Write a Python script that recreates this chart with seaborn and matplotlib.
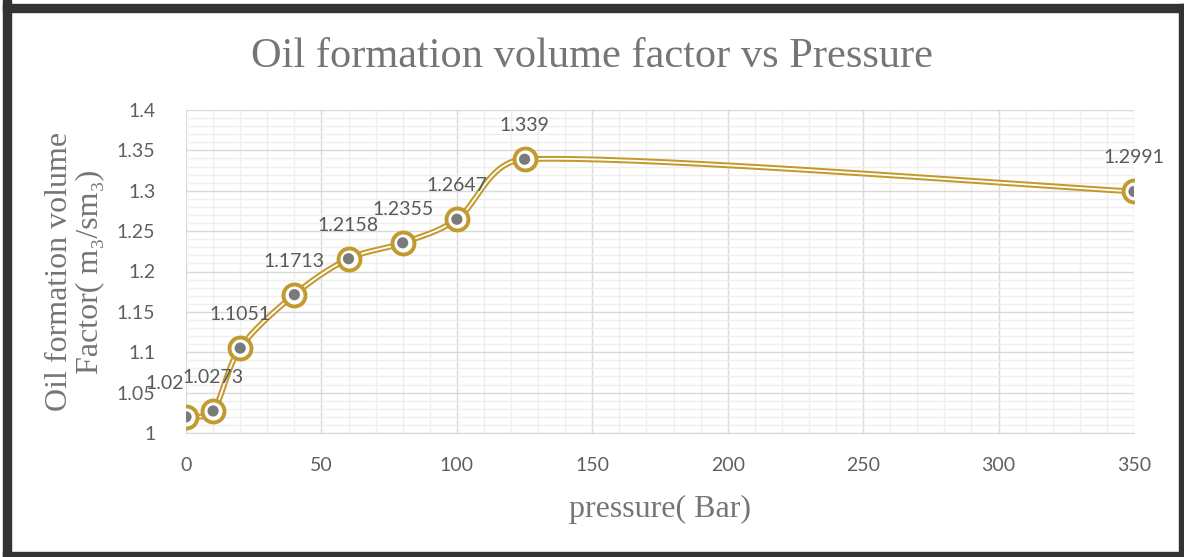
import numpy as np
import matplotlib
matplotlib.use("Agg")
import matplotlib.pyplot as plt
from matplotlib.patches import Rectangle
import seaborn as sns
import pandas as pd


pressure = [0, 10, 20, 40, 60, 80, 100, 125, 350]
bo = [1.02, 1.0273, 1.1051, 1.1713, 1.2158, 1.2355, 1.2647, 1.339, 1.2991]
bo_labels = ["1.02", "1.0273", "1.1051", "1.1713", "1.2158", "1.2355", "1.2647", "1.339", "1.2991"]

GOLD = "#C39A2E"
GREY_TXT = "#757575"
TICK_TXT = "#606060"


def smooth_curve(xs, ys, sx, sy, n=60):
    # excel-ish smoothed line: catmull-rom bezier, tangents clamped by segment length
    pts = np.column_stack([np.asarray(xs, float) * sx, np.asarray(ys, float) * sy])
    out = []
    for i in range(len(pts) - 1):
        p0 = pts[i - 1] if i > 0 else pts[i]
        p1 = pts[i]
        p2 = pts[i + 1]
        p3 = pts[i + 2] if i + 2 < len(pts) else pts[i + 1]
        L = np.linalg.norm(p2 - p1)
        t1 = (p2 - p0) / 6.0
        t2 = (p3 - p1) / 6.0
        if np.linalg.norm(t1) > 0.4 * L:
            t1 = t1 / np.linalg.norm(t1) * 0.4 * L
        if np.linalg.norm(t2) > 0.4 * L:
            t2 = t2 / np.linalg.norm(t2) * 0.4 * L
        c1 = p1 + t1
        c2 = p2 - t2
        t = np.linspace(0, 1, n)[:, None]
        seg = ((1 - t) ** 3) * p1 + 3 * ((1 - t) ** 2) * t * c1 + 3 * (1 - t) * t ** 2 * c2 + t ** 3 * p2
        out.append(seg if i == 0 else seg[1:])
    out = np.vstack(out)
    return out[:, 0] / sx, out[:, 1] / sy


def main():
    sns.set_style("white")
    plt.rcParams["font.family"] = ["Lato", "DejaVu Sans"]
    serif = ["Liberation Serif", "DejaVu Serif"]

    df = pd.DataFrame({"pressure": pressure, "bo": bo})

    fig = plt.figure(figsize=(11.84, 5.57), dpi=100)
    ax = fig.add_axes([186 / 1184, (557 - 433) / 557, 948 / 1184, 323 / 557])

    ax.set_xlim(0, 350)
    ax.set_ylim(1.0, 1.4)
    ax.set_xticks(np.arange(0, 351, 50))
    ax.set_yticks(np.arange(1.0, 1.401, 0.05))
    ax.set_xticks(np.arange(0, 351, 10), minor=True)
    ax.set_yticks(np.arange(1.0, 1.401, 0.01), minor=True)
    ax.set_yticklabels(["1", "1.05", "1.1", "1.15", "1.2", "1.25", "1.3", "1.35", "1.4"])
    ax.grid(which="minor", color="#efefef", linewidth=1.0)
    ax.grid(which="major", color="#d9d9d9", linewidth=1.0)
    ax.set_axisbelow(True)
    for s in ["top", "right", "left"]:
        ax.spines[s].set_visible(False)
    ax.spines["bottom"].set_color("#d9d9d9")
    ax.tick_params(which="both", length=0, labelsize=14, labelcolor=TICK_TXT)
    ax.tick_params(axis="x", pad=17)
    ax.tick_params(axis="y", pad=22)

    # smoothed double line (gold outer, white core)
    sx_, sy_ = smooth_curve(pressure, bo, 948 / 350, 323 / 0.4)
    ax.plot(sx_, sy_, color=GOLD, linewidth=4.2, solid_capstyle="round", zorder=3)
    ax.plot(sx_, sy_, color="white", linewidth=1.3, solid_capstyle="round", zorder=4)

    # markers: gold ring, white ring, grey dot
    sns.scatterplot(data=df, x="pressure", y="bo", ax=ax, s=250, color="white",
                    edgecolor=GOLD, linewidth=2.8, zorder=5, legend=False)
    sns.scatterplot(data=df, x="pressure", y="bo", ax=ax, s=65, color="#7a7a7a",
                    edgecolor="none", linewidth=0, zorder=6, legend=False)

    for i, (x, y, lab) in enumerate(zip(pressure, bo, bo_labels)):
        dx = -15 if i == 0 else 0
        ax.annotate(lab, (x, y), xytext=(dx, 18), textcoords="offset points",
                    ha="center", va="bottom", fontsize=14, color="#595959",
                    zorder=7, annotation_clip=False)

    ax.set_xlabel("pressure( Bar)", family=serif, fontsize=23, color=GREY_TXT, labelpad=15)
    ax.set_ylabel("Oil formation volume\nFactor( m\u2083/sm\u2083)", family=serif,
                  fontsize=23, color=GREY_TXT, labelpad=9, linespacing=1.05)

    fig.text(0.5, 1 - 57 / 557, "Oil formation volume factor vs Pressure",
             ha="center", va="center", fontsize=30.5, color=GREY_TXT, family=serif)

    # dark frame around the chart
    dark = "#333333"
    W, H = 1184, 557
    fig.patches.extend([
        Rectangle((3 / W, 0), 8 / W, 1, transform=fig.transFigure, color=dark, zorder=10),
        Rectangle((3 / W, 1 - 12 / H), 1, 8 / H, transform=fig.transFigure, color=dark, zorder=10),
        Rectangle((1179 / W, 0), 5 / W, 1 - 4 / H, transform=fig.transFigure, color=dark, zorder=10),
        Rectangle((3 / W, 0), 1, 5 / H, transform=fig.transFigure, color=dark, zorder=10),
    ])

    fig.savefig("out.png", dpi=100)
    plt.close(fig)


if __name__ == "__main__":
    main()
